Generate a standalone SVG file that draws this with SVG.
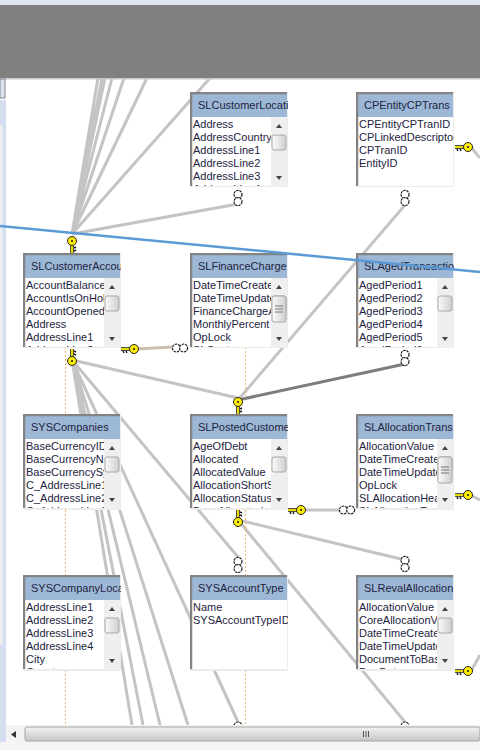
<svg xmlns="http://www.w3.org/2000/svg" width="480" height="750" viewBox="0 0 480 750">
<style>
text{font-family:"Liberation Sans",Arial,sans-serif;font-size:11px;fill:#1d2440}
.h{fill:#9db8d6}
.fr{fill:#fff;stroke:#ececec;stroke-width:2}
.edge{fill:none;stroke:#838383;stroke-width:2.5}
.c{fill:none;stroke:#c4c4c4;stroke-width:3}
.d{fill:none;stroke:#f2b56b;stroke-width:1;stroke-dasharray:2 2}
.k{fill:#ffee00;stroke:#222;stroke-width:1}
.o{fill:#fff;stroke:#222;stroke-width:1.200;stroke-dasharray:2.500 .8}
</style>
<defs>
<linearGradient id="th" x1="0" x2="1"><stop offset="0" stop-color="#fafafa"/><stop offset="1" stop-color="#cfcfcf"/></linearGradient>
<linearGradient id="bar" x1="0" x2="0" y1="0" y2="1"><stop offset="0" stop-color="#f2f2f2"/><stop offset="1" stop-color="#c6c6c6"/></linearGradient>
<g id="sb"><rect x="0" y="0" width="16" height="70" fill="#efefef"/><path d="M5 11l3-4 3 4zM5 59l3 4 3-4z" fill="#444"/><rect x="1" y="18" width="14" height="15" rx="2" fill="url(#th)" stroke="#a8a8a8"/></g>
<g id="keyH"><path d="M-10 -1H0" stroke="#222" stroke-width="3.600"/><path d="M-8 1l1 2M-5 1l1 2" stroke="#222" stroke-width="1.500"/><path d="M-10 -1H0" stroke="#ffee00" stroke-width="1.800"/><circle class="k" cx="3" cy="-1" r="4.500"/><circle cx="3" cy="-1" r="1.100" fill="#222"/></g>
<g id="keyD"><path d="M0 -9V1" stroke="#222" stroke-width="3.600"/><path d="M2 -7l2 1M2 -4l2 1" stroke="#222" stroke-width="1.500"/><path d="M0 -9V1" stroke="#ffee00" stroke-width="1.800"/><circle class="k" cx="0" cy="3" r="4.500"/><circle cx="0" cy="3" r="1.100" fill="#222"/></g>
<g id="keyU"><path d="M0 9V-1" stroke="#222" stroke-width="3.600"/><path d="M2 7l2-1M2 4l2-1" stroke="#222" stroke-width="1.500"/><path d="M0 9V-1" stroke="#ffee00" stroke-width="1.800"/><circle class="k" cx="0" cy="-3" r="4.500"/><circle cx="0" cy="-3" r="1.100" fill="#222"/></g>
<g id="oV"><circle class="o" cx="0" cy="-3.600" r="4"/><circle class="o" cx="0" cy="3.600" r="4"/></g>
<g id="oH"><circle class="o" cx="-3.600" cy="0" r="4"/><circle class="o" cx="3.600" cy="0" r="4"/></g>
</defs>
<rect width="480" height="750" fill="#fff"/>

<g id="connectors">
<path class="c" d="M72 234L98 78M72 234L102 78M72 234L105 78M72 234L112 78M72 234L124 78M72 234L147 78M72 234L210 78M72 234L238 204"/>
<path class="c" d="M72 360L238 398M72 360L132 725M72 360L143 725M72 360L160 725M72 360L188 725M72 360L238 722M72 360L238 557"/>
<path class="c" d="M238 400L405 205"/>
<path d="M238 400L405 364" fill="none" stroke="#7d7d7d" stroke-width="3"/>
<path class="c" d="M238 520L405 560M238 520L405 722"/>
<path d="M137 349L172 347" fill="none" stroke="#cdbfae" stroke-width="3"/>
<path class="c" d="M304 510L340 510"/>
<path class="c" d="M471 147L480 158M470 495L480 500M471 671L480 655"/>
<path class="d" d="M65.500 347V414M65.500 510V575M65.500 670V725M245.500 347V396M245.500 510V575M245.500 670V725"/>
</g>

<g id="node-SLCustomerLocation"><svg x="190" y="92" width="98" height="95"><rect class="fr" x="0" y="0" width="98" height="95"/><rect class="h" x="2" y="2" width="95" height="23"/><text x="8" y="17">SLCustomerLocation</text><svg x="0" y="25" width="81" height="69"><text x="3" y="11">Address</text><text x="3" y="24">AddressCountry</text><text x="3" y="37">AddressLine1</text><text x="3" y="50">AddressLine2</text><text x="3" y="63">AddressLine3</text><text x="3" y="76">AddressLine4</text></svg><use href="#sb" x="81" y="25"/><path class="edge" d="M1 94V1H97"/></svg></g>

<g id="node-CPEntityCPTrans"><svg x="356" y="92" width="98" height="95"><rect class="fr" x="0" y="0" width="98" height="95"/><rect class="h" x="2" y="2" width="95" height="23"/><text x="8" y="17">CPEntityCPTrans</text><text x="3" y="36">CPEntityCPTranID</text><text x="3" y="49">CPLinkedDescriptor</text><text x="3" y="62">CPTranID</text><text x="3" y="75">EntityID</text><path class="edge" d="M1 94V1H97"/></svg></g>

<g id="node-SLCustomerAccount"><svg x="23" y="253" width="98" height="95"><rect class="fr" x="0" y="0" width="98" height="95"/><rect class="h" x="2" y="2" width="95" height="23"/><text x="8" y="17">SLCustomerAccount</text><svg x="0" y="25" width="81" height="69"><text x="3" y="11">AccountBalance</text><text x="3" y="24">AccountIsOnHold</text><text x="3" y="37">AccountOpened</text><text x="3" y="50">Address</text><text x="3" y="63">AddressLine1</text><text x="3" y="76">AddressLine2</text></svg><use href="#sb" x="81" y="25"/><path class="edge" d="M1 94V1H97"/></svg></g>

<g id="node-SLFinanceCharge"><svg x="190" y="253" width="98" height="95"><rect class="fr" x="0" y="0" width="98" height="95"/><rect class="h" x="2" y="2" width="95" height="23"/><text x="8" y="17">SLFinanceCharge</text><svg x="0" y="25" width="81" height="69"><text x="3" y="11">DateTimeCreated</text><text x="3" y="24">DateTimeUpdated</text><text x="3" y="37">FinanceChargeAmount</text><text x="3" y="50">MonthlyPercent</text><text x="3" y="63">OpLock</text><text x="3" y="76">SLCustomer</text></svg><use href="#sb" x="81" y="25"/><rect x="82" y="43" width="14" height="26" rx="2" fill="url(#th)" stroke="#a8a8a8"/><path d="M85 53h8M85 56h8M85 59h8" stroke="#777"/><path class="edge" d="M1 94V1H97"/></svg></g>

<g id="node-SLAgedTransaction"><svg x="356" y="253" width="98" height="95"><rect class="fr" x="0" y="0" width="98" height="95"/><rect class="h" x="2" y="2" width="95" height="23"/><text x="8" y="17">SLAgedTransaction</text><svg x="0" y="25" width="81" height="69"><text x="3" y="11">AgedPeriod1</text><text x="3" y="24">AgedPeriod2</text><text x="3" y="37">AgedPeriod3</text><text x="3" y="50">AgedPeriod4</text><text x="3" y="63">AgedPeriod5</text><text x="3" y="76">AgedPeriod6</text></svg><use href="#sb" x="81" y="25"/><path class="edge" d="M1 94V1H97"/></svg></g>

<g id="node-SYSCompanies"><svg x="23" y="414" width="98" height="96"><rect class="fr" x="0" y="0" width="98" height="95"/><rect class="h" x="2" y="2" width="95" height="23"/><text x="8" y="17">SYSCompanies</text><svg x="0" y="25" width="81" height="69"><text x="3" y="11">BaseCurrencyID</text><text x="3" y="24">BaseCurrencyName</text><text x="3" y="37">BaseCurrencySymbol</text><text x="3" y="50">C_AddressLine1</text><text x="3" y="63">C_AddressLine2</text><text x="3" y="76">C_AddressLine3</text></svg><use href="#sb" x="81" y="25"/><path class="edge" d="M1 94V1H97"/></svg></g>

<g id="node-SLPostedCustomer"><svg x="190" y="414" width="98" height="96"><rect class="fr" x="0" y="0" width="98" height="95"/><rect class="h" x="2" y="2" width="95" height="23"/><text x="8" y="17">SLPostedCustomer</text><svg x="0" y="25" width="81" height="69"><text x="3" y="11">AgeOfDebt</text><text x="3" y="24">Allocated</text><text x="3" y="37">AllocatedValue</text><text x="3" y="50">AllocationShortS</text><text x="3" y="63">AllocationStatus</text><text x="3" y="76">BaseAllocated</text></svg><use href="#sb" x="81" y="25"/><path class="edge" d="M1 94V1H97"/></svg></g>

<g id="node-SLAllocationTrans"><svg x="356" y="414" width="98" height="96"><rect class="fr" x="0" y="0" width="98" height="95"/><rect class="h" x="2" y="2" width="95" height="23"/><text x="8" y="17">SLAllocationTrans</text><svg x="0" y="25" width="81" height="69"><text x="3" y="11">AllocationValue</text><text x="3" y="24">DateTimeCreated</text><text x="3" y="37">DateTimeUpdated</text><text x="3" y="50">OpLock</text><text x="3" y="63">SLAllocationHead</text><text x="3" y="76">SLAllocationTran</text></svg><use href="#sb" x="81" y="25"/><rect x="82" y="43" width="14" height="26" rx="2" fill="url(#th)" stroke="#a8a8a8"/><path d="M85 53h8M85 56h8M85 59h8" stroke="#777"/><path class="edge" d="M1 94V1H97"/></svg></g>

<g id="node-SYSCompanyLocation"><svg x="23" y="575" width="98" height="96"><rect class="fr" x="0" y="0" width="98" height="95"/><rect class="h" x="2" y="2" width="95" height="23"/><text x="8" y="17">SYSCompanyLocation</text><svg x="0" y="25" width="81" height="69"><text x="3" y="11">AddressLine1</text><text x="3" y="24">AddressLine2</text><text x="3" y="37">AddressLine3</text><text x="3" y="50">AddressLine4</text><text x="3" y="63">City</text><text x="3" y="76">Country</text></svg><use href="#sb" x="81" y="25"/><path class="edge" d="M1 94V1H97"/></svg></g>

<g id="node-SYSAccountType"><svg x="190" y="575" width="98" height="96"><rect class="fr" x="0" y="0" width="98" height="95"/><rect class="h" x="2" y="2" width="95" height="23"/><text x="8" y="17">SYSAccountType</text><text x="3" y="36">Name</text><text x="3" y="49">SYSAccountTypeID</text><path class="edge" d="M1 94V1H97"/></svg></g>

<g id="node-SLRevalAllocation"><svg x="356" y="575" width="98" height="96"><rect class="fr" x="0" y="0" width="98" height="95"/><rect class="h" x="2" y="2" width="95" height="23"/><text x="8" y="17">SLRevalAllocation</text><svg x="0" y="25" width="81" height="69"><text x="3" y="11">AllocationValue</text><text x="3" y="24">CoreAllocationValue</text><text x="3" y="37">DateTimeCreated</text><text x="3" y="50">DateTimeUpdated</text><text x="3" y="63">DocumentToBase</text><text x="3" y="76">DueDate</text></svg><use href="#sb" x="81" y="25"/><path class="edge" d="M1 94V1H97"/></svg></g>

<g id="ends">
<use href="#oV" x="238" y="198"/><use href="#oV" x="405" y="198"/><use href="#oV" x="405" y="358"/>
<use href="#oH" x="180" y="348"/><use href="#oH" x="347" y="510"/><use href="#oV" x="405" y="564"/><use href="#oV" x="238" y="565"/>
<use href="#keyU" x="72" y="244"/><use href="#keyD" x="72" y="358"/><use href="#keyU" x="238" y="405"/><use href="#keyD" x="238" y="519"/>
<use href="#keyH" x="131" y="350"/><use href="#keyH" x="298" y="511"/><use href="#keyH" x="465" y="148"/><use href="#keyH" x="465" y="496"/><use href="#keyH" x="465" y="672"/>
<circle class="o" cx="238" cy="726" r="4"/><circle class="o" cx="405" cy="726" r="4"/>
</g>

<g id="chrome">
<rect x="0" y="0" width="480" height="5" fill="#dfe7f1"/>
<rect x="0" y="5" width="480" height="73" fill="#808080"/>
<rect x="0" y="78" width="480" height="1.500" fill="#c8c8c8"/>
<rect x="0" y="79" width="5" height="19" fill="#dde3ea" stroke="#7c8797"/>
<rect x="0" y="100" width="6" height="642" fill="#d4def0"/>
<rect x="0" y="125" width="2.500" height="520" fill="#eeeeee"/>
<rect x="6" y="725" width="474" height="17" fill="#f3f3f3"/>
<rect x="25" y="727" width="455" height="14" rx="2" fill="url(#bar)" stroke="#a5a5a5"/>
<path d="M16 731l-5 3.500 5 3.500z" fill="#333"/>
<path d="M363.500 731v6M366 731v6M368.500 731v6" stroke="#555" stroke-width="1"/>
<rect x="0" y="742" width="480" height="8" fill="#f5f5f5"/>
</g>

<path id="blue-line" d="M0 226L480 272" fill="none" stroke="#5b9bd5" stroke-width="2.500"/>
</svg>
